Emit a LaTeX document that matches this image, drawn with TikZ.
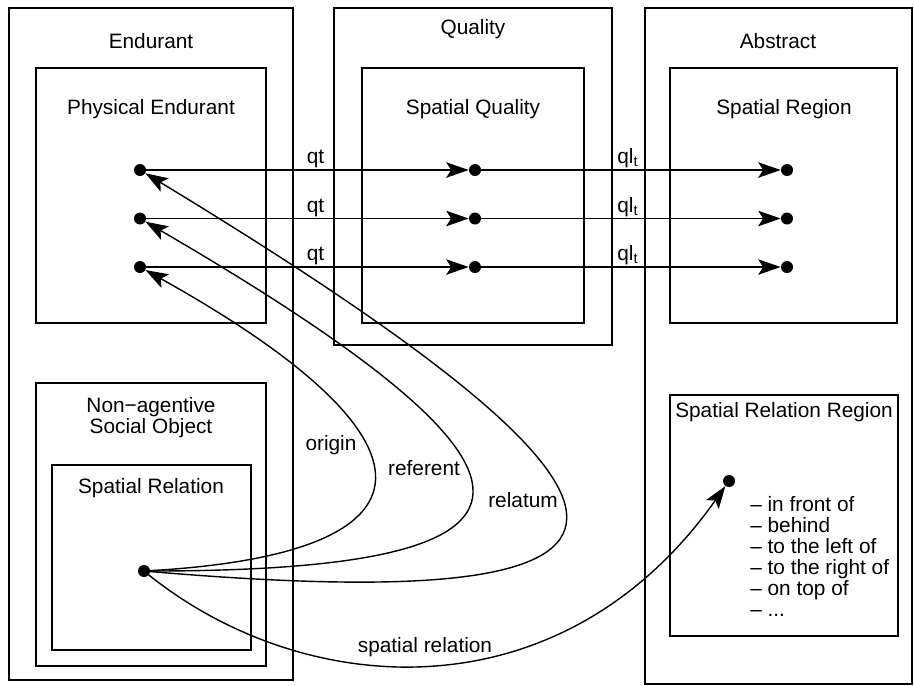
\documentclass[tikz,border=0pt]{standalone}
\usepackage{fontspec}
\setmainfont{Liberation Sans}
\usetikzlibrary{positioning,arrows.meta}

\tikzset{
  dot/.style={circle,fill,inner sep=0pt,minimum size=0.3cm},
  box/.style={draw,line width=0.9pt},
  rel/.style={-{Stealth[length=16pt,width=11pt,inset=3.5pt]},line width=1pt},
}

\begin{document}
\begin{tikzpicture}[x=0.025cm,y=-0.025cm,node distance=1.2125cm,font=\fontsize{14.8}{15}\selectfont]
        \useasboundingbox (0,0) rectangle (914,685);
        % containers
        \draw[box] (9,8) rectangle (293,680);
        \draw[box] (36,68) rectangle (266,323);
        \draw[box] (36,383) rectangle (266,666);
        \draw[box] (52,465) rectangle (251,650);
        \draw[box] (334,8) rectangle (612,345);
        \draw[box] (362,68) rectangle (584,323);
        \draw[box] (645,8) rectangle (912,684);
        \draw[box] (670,68) rectangle (897,323);
        \draw[box] (670,395) rectangle (898,636);
        % titles
        \node(T1) at (151,41) {Endurant};
        \node(T2) at (473,29) {Quality};
        \node(T3) at (778,41) {Abstract};
        \node(T4) at (151,109) {Physical Endurant};
        \node(T5) at (473,109) {Spatial Quality};
        \node(T6) at (784,109) {Spatial Region};
        \node(T7) [align=center] at (151,418) {Non−agentive\\Social Object};
        \node(T8) at (151,488) {Spatial Relation};
        \node(T9) at (784,412) {Spatial Relation Region};
        \node(L1) [anchor=north west,align=left,inner sep=0pt] at (750,496)
            {– in front of\\– behind\\– to the left of\\– to the right of\\– on top of\\– ...};
        % dots
        \node(P1) [dot] at (140,170) {};
        \node(P2) [dot, below of= P1] {};
        \node(P3) [dot, below of= P2] {};
        \node(Q1) [dot] at (475,170) {};
        \node(Q2) [dot, below of= Q1] {};
        \node(Q3) [dot, below of= Q2] {};
        \node(R1) [dot] at (787,170) {};
        \node(R2) [dot, below of= R1] {};
        \node(R3) [dot, below of= R2] {};
        \node(S)  [dot] at (144,571) {};
        \node(G)  [dot] at (729,481) {};
        % qualities
        \draw[rel] (P1) -- node[above,xshift=0.2cm,inner sep=1pt] {qt} (Q1);
        \draw[rel] (P2) -- node[above,xshift=0.2cm,inner sep=1pt] {qt} (Q2);
        \draw[rel] (P3) -- node[above,xshift=0.2cm,inner sep=1pt] {qt} (Q3);
        \draw[rel] (Q1.center) -- node[above,inner sep=1pt] {ql\textsubscript{t}} (R1);
        \draw[rel] (Q2.center) -- node[above,inner sep=1pt] {ql\textsubscript{t}} (R2);
        \draw[rel] (Q3.center) -- node[above,inner sep=1pt] {ql\textsubscript{t}} (R3);
        % relation arguments
        \draw[rel] (S.center) .. controls (450,555) and (450,440) .. (P3);
        \draw[rel] (S.center) .. controls (580,572) and (580,475) .. (P2);
        \draw[rel] (S.center) .. controls (710,620) and (700,510) .. (P1);
        \draw[rel] (S.center) .. controls (300,700) and (560,720) .. (G);
        \node(A1) at (331,445) {origin};
        \node(A2) at (424,468) {referent};
        \node(A3) at (523,500) {relatum};
        \node(A4) at (425,647) {spatial relation};
    \end{tikzpicture}
\end{document}
